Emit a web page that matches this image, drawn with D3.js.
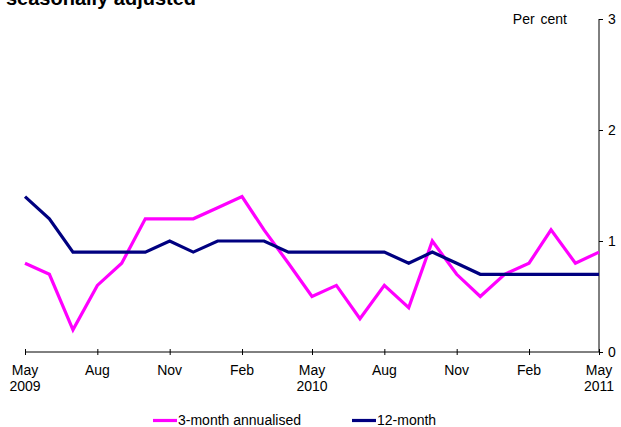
<!DOCTYPE html>
<html>
<head>
<meta charset="utf-8">
<script src="https://cdn.jsdelivr.net/npm/d3@7"></script>
<style>
  body { margin: 0; background: #fff; }
  svg { display: block; font-family: "Liberation Sans", Arial, sans-serif; }
</style>
</head>
<body>
<svg id="chart" width="621" height="427"></svg>
<script>
// ---- data ----
const months = ["2009-05","2009-06","2009-07","2009-08","2009-09","2009-10","2009-11","2009-12",
  "2010-01","2010-02","2010-03","2010-04","2010-05","2010-06","2010-07","2010-08","2010-09","2010-10",
  "2010-11","2010-12","2011-01","2011-02","2011-03","2011-04","2011-05"];
const threeMonth = [0.8,0.7,0.2,0.6,0.8,1.2,1.2,1.2,1.3,1.4,1.1,0.8,0.5,0.6,0.3,0.6,0.4,1.0,0.7,0.5,0.7,0.8,1.1,0.8,0.9];
const twelveMonth = [1.4,1.2,0.9,0.9,0.9,0.9,1.0,0.9,1.0,1.0,1.0,0.9,0.9,0.9,0.9,0.9,0.8,0.9,0.8,0.7,0.7,0.7,0.7,0.7,0.7];
const seriesNames = ["3-month annualised","12-month"];
const seriesColors = ["#ff00ff","#000080"];
const xTickMonths = ["2009-05","2009-08","2009-11","2010-02","2010-05","2010-08","2010-11","2011-02","2011-05"];
const xTickLabels = [["May","2009"],["Aug"],["Nov"],["Feb"],["May","2010"],["Aug"],["Nov"],["Feb"],["May","2011"]];
const yTicks = [0,1,2,3];
const titleText = "seasonally adjusted";
const unitLabel = "Per cent";

// ---- chart ----
const svg = d3.select("#chart");
const parse = d3.timeParse("%Y-%m");
const dates = months.map(parse);

const x = d3.scaleTime().domain([dates[0], dates[dates.length-1]]).range([25, 599]);
const y = d3.scaleLinear().domain([0, 3]).range([352, 19]);

svg.append("text").attr("x", 6).attr("y", 5)
  .attr("font-size", 20).attr("font-weight", "bold").attr("fill", "#000")
  .text(titleText);

// y axis on right
const yAxis = d3.axisRight(y).tickValues(yTicks).tickSize(4).tickPadding(5).tickFormat(d3.format("d"));
const gy = svg.append("g").attr("transform", "translate(599,0)").call(yAxis);
gy.select(".domain").attr("stroke", "#000").attr("d", "M0," + y(3) + "V" + y(0));
gy.selectAll(".tick line").attr("stroke", "#000");
gy.selectAll(".tick text").attr("font-size", 14).attr("fill", "#000").attr("font-family", "Liberation Sans, Arial, sans-serif");

svg.append("text").attr("x", 567).attr("y", y(3) + 5)
  .attr("text-anchor", "end").attr("font-size", 14).attr("fill", "#000")
  .attr("word-spacing", "2px")
  .text(unitLabel);

// x axis
const xAxis = d3.axisBottom(x).tickValues(xTickMonths.map(parse)).tickSize(3).tickFormat("");
const gx = svg.append("g").attr("transform", "translate(0," + y(0) + ")").call(xAxis);
gx.select(".domain").attr("stroke", "#000").attr("d", "M" + x.range()[0] + ",0H" + x.range()[1]);
gx.selectAll(".tick line").attr("stroke", "#000").attr("y1", -3).attr("y2", 3);

xTickMonths.forEach((m, i) => {
  const t = svg.append("text").attr("text-anchor", "middle").attr("font-size", 14).attr("fill", "#000");
  xTickLabels[i].forEach((s, j) => {
    t.append("tspan").attr("x", x(parse(m))).attr("y", 375 + j * 16).text(s);
  });
});

// lines
const line = d3.line().x((d, i) => x(dates[i])).y(d => y(d));
[threeMonth, twelveMonth].forEach((vals, k) => {
  svg.append("path").datum(vals)
    .attr("d", line).attr("fill", "none")
    .attr("stroke", seriesColors[k]).attr("stroke-width", 3.2)
    .attr("stroke-linejoin", "miter");
});

// legend
const legendX = [153, 352];
seriesNames.forEach((name, k) => {
  svg.append("line").attr("x1", legendX[k]).attr("x2", legendX[k] + 24)
    .attr("y1", 420.5).attr("y2", 420.5)
    .attr("stroke", seriesColors[k]).attr("stroke-width", 3.2);
  svg.append("text").attr("x", legendX[k] + 25).attr("y", 425)
    .attr("font-size", 14).attr("fill", "#000").text(name);
});
</script>
</body>
</html>
